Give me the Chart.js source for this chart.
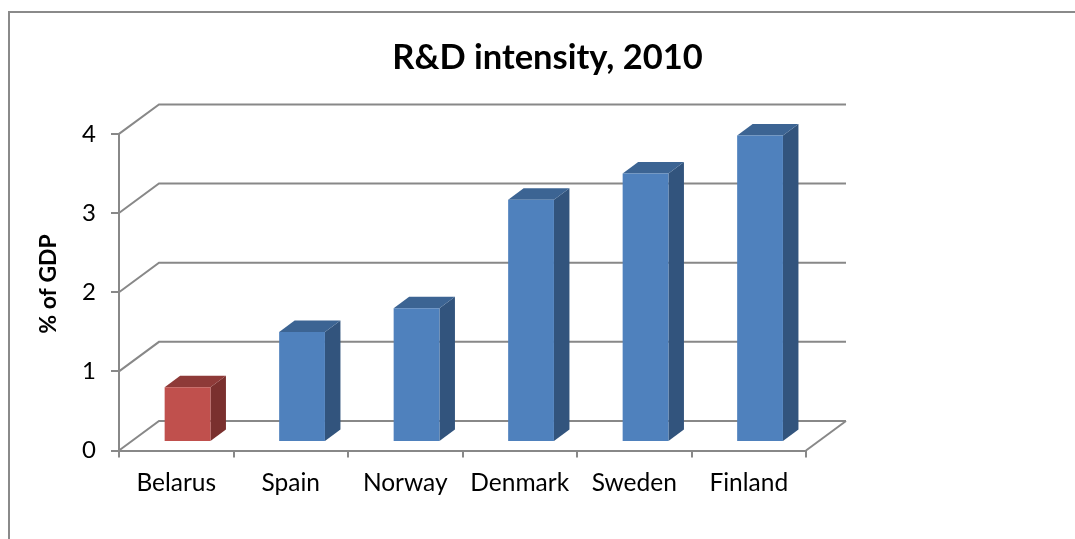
<!DOCTYPE html>
<html>
<head>
<meta charset="utf-8">
<script src="https://cdn.jsdelivr.net/npm/chart.js@4.4.1/dist/chart.umd.min.js"></script>
<style>
  html, body { margin: 0; padding: 0; background: #fff; }
  canvas { display: block; }
</style>
</head>
<body>
<canvas id="chart" width="1075" height="539"></canvas>
<script>
// R&D intensity (gross domestic expenditure on R&D, % of GDP), 2010
const categories = ['Belarus', 'Spain', 'Norway', 'Denmark', 'Sweden', 'Finland'];
const gdpShare = [0.69, 1.39, 1.69, 3.06, 3.39, 3.87];
const yTickValues = [0, 1, 2, 3, 4];
const highlighted = 'Belarus';

// Face colours for the shaded 3-D columns
const BLUE = { front: '#4F81BD', top: '#3C6493', side: '#32547D' };
const RED  = { front: '#C0504D', top: '#8E3A38', side: '#7A302E' };
const palette = categories.map(c => (c === highlighted ? RED : BLUE));

const GRID = '#888888';
const FONT = 'Lato, "Open Sans", sans-serif';

// Oblique projection: depth of the box, position and depth of the columns
const WALL = { dx: 40, dy: -29.5 };
const BAR_SHIFT = { dx: 11.3, dy: -8.6 };
const BAR_DEPTH = { dx: 15.5, dy: -11.5 };

const box3d = {
  id: 'box3d',
  beforeDraw(chart) {
    const { ctx, width, height } = chart;
    ctx.save();
    ctx.fillStyle = '#fff';
    ctx.fillRect(0, 0, width, height);
    // outer frame
    ctx.strokeStyle = '#8a8a8a';
    ctx.lineWidth = 2;
    ctx.beginPath();
    ctx.moveTo(9, height + 2);
    ctx.lineTo(9, 12);
    ctx.lineTo(width + 2, 12);
    ctx.stroke();
    ctx.restore();
  },
  beforeDatasetsDraw(chart) {
    const { ctx, chartArea: a, scales: { y } } = chart;
    ctx.save();
    ctx.strokeStyle = GRID;
    ctx.lineWidth = 2;
    ctx.lineJoin = 'miter';
    // back-wall gridlines, joined to the front axis by the side diagonals
    yTickValues.forEach(v => {
      const py = y.getPixelForValue(v);
      ctx.beginPath();
      ctx.moveTo(a.left, py);
      ctx.lineTo(a.left + WALL.dx, py + WALL.dy);
      ctx.lineTo(a.right + WALL.dx, py + WALL.dy);
      ctx.stroke();
    });
    // right edge of the floor
    const p0 = y.getPixelForValue(0);
    ctx.beginPath();
    ctx.moveTo(a.right, p0);
    ctx.lineTo(a.right + WALL.dx, p0 + WALL.dy);
    ctx.stroke();

    // side and top faces of each column
    const meta = chart.getDatasetMeta(0);
    meta.data.forEach((bar, i) => {
      const p = bar.getProps(['x', 'y', 'base', 'width'], true);
      const l = p.x - p.width / 2 + BAR_SHIFT.dx;
      const r = p.x + p.width / 2 + BAR_SHIFT.dx;
      const t = p.y + BAR_SHIFT.dy;
      const b = p.base + BAR_SHIFT.dy;
      ctx.fillStyle = palette[i].side;
      ctx.beginPath();
      ctx.moveTo(r, t);
      ctx.lineTo(r + BAR_DEPTH.dx, t + BAR_DEPTH.dy);
      ctx.lineTo(r + BAR_DEPTH.dx, b + BAR_DEPTH.dy);
      ctx.lineTo(r, b);
      ctx.closePath();
      ctx.fill();
      ctx.fillStyle = palette[i].top;
      ctx.beginPath();
      ctx.moveTo(l, t);
      ctx.lineTo(l + BAR_DEPTH.dx, t + BAR_DEPTH.dy);
      ctx.lineTo(r + BAR_DEPTH.dx, t + BAR_DEPTH.dy);
      ctx.lineTo(r, t);
      ctx.closePath();
      ctx.fill();
    });
    ctx.restore();
    // front faces sit inside the box, behind the front axis plane
    ctx.save();
    ctx.translate(BAR_SHIFT.dx, BAR_SHIFT.dy);
  },
  afterDatasetsDraw(chart) {
    chart.ctx.restore();
  },
  afterDraw(chart) {
    const { ctx } = chart;
    ctx.save();
    ctx.translate(48.5, 284);
    ctx.rotate(-Math.PI / 2);
    ctx.fillStyle = '#000';
    ctx.font = 'bold 23px ' + FONT;
    ctx.textAlign = 'center';
    ctx.textBaseline = 'middle';
    ctx.fillText('% of GDP', 0, 0);
    ctx.restore();
  }
};

new Chart(document.getElementById('chart'), {
  type: 'bar',
  data: {
    labels: categories,
    datasets: [{
      data: gdpShare,
      backgroundColor: palette.map(c => c.front),
      borderWidth: 0,
      categoryPercentage: 1,
      barPercentage: 0.4
    }]
  },
  options: {
    responsive: false,
    animation: false,
    events: [],
    layout: { padding: { left: 20, top: 0, right: 0, bottom: 0 } },
    plugins: {
      legend: { display: false },
      tooltip: { enabled: false },
      title: {
        display: true,
        text: 'R&D intensity, 2010',
        color: '#000',
        font: { family: FONT, size: 34.5, weight: 'bold', lineHeight: 1.2 },
        padding: { top: 37, bottom: 55.5 }
      }
    },
    scales: {
      x: {
        offset: true,
        grid: { offset: true, drawOnChartArea: false, tickLength: 7, color: GRID, lineWidth: 2 },
        border: { display: true, color: GRID, width: 2 },
        ticks: { color: '#000', padding: 11, font: { family: FONT, size: 24.5 } },
        afterFit(scale) { scale.height = 88.5; }
      },
      y: {
        min: 0,
        max: 4,
        afterBuildTicks(scale) { scale.ticks = yTickValues.map(v => ({ value: v })); },
        grid: { drawOnChartArea: false, tickLength: 8, color: GRID, lineWidth: 2 },
        border: { display: true, color: GRID, width: 2 },
        ticks: { color: '#000', padding: 15, font: { family: FONT, size: 24 } },
        afterFit(scale) { scale.width = 99; }
      },
      // empty strip on the right that holds the depth of the 3-D box
      depthStrip: {
        type: 'linear',
        position: 'right',
        display: true,
        grid: { display: false },
        border: { display: false },
        ticks: { display: false },
        afterFit(scale) { scale.width = 269; }
      }
    }
  },
  plugins: [box3d]
});
</script>
</body>
</html>
